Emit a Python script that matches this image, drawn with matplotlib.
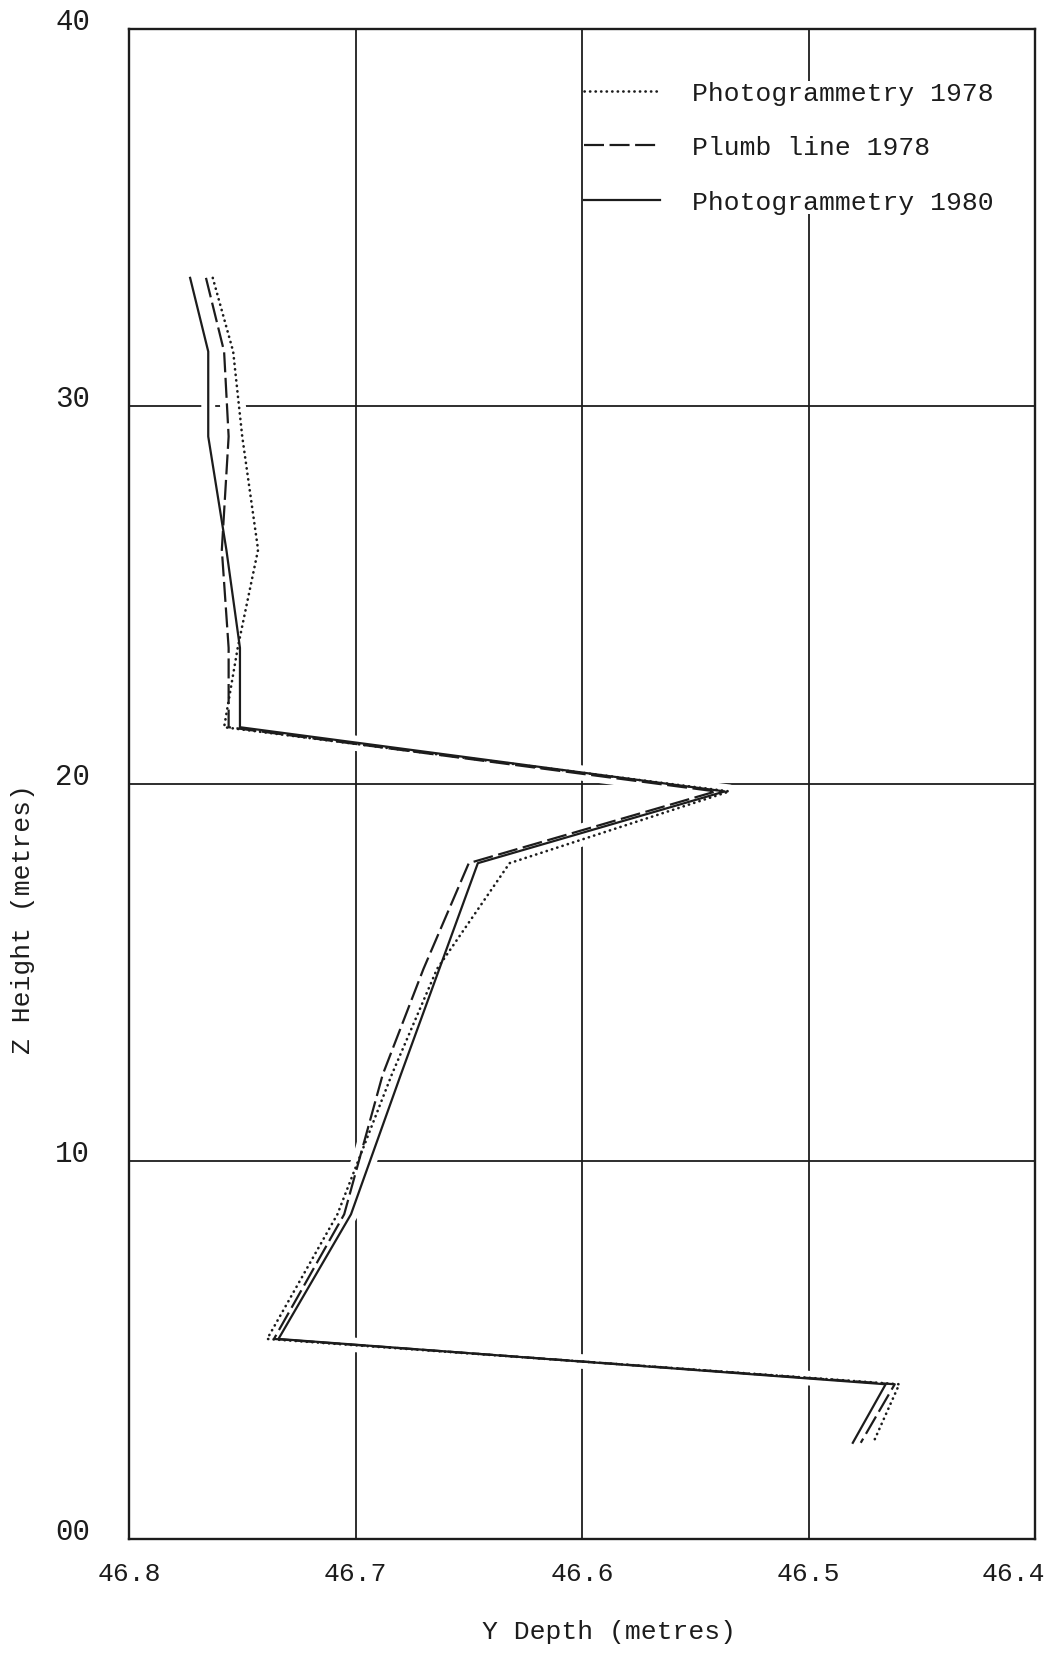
import matplotlib
matplotlib.use('Agg')
import matplotlib.pyplot as plt

# ---------------- data ----------------
height = [33.4, 31.45, 29.2, 26.2, 23.6, 21.5, 19.8, 17.9, 15.1, 12.3, 8.6, 5.3, 4.1, 2.55]
photo_1978 = [46.763, 46.754, 46.750, 46.743, 46.752, 46.758, 46.535, 46.632,
              46.664, 46.684, 46.708, 46.739, 46.460, 46.4715]
plumb_1978 = [46.766, 46.758, 46.756, 46.759, 46.756, 46.756, 46.541, 46.650,
              46.670, 46.688, 46.705, 46.736, 46.462, 46.477]
photo_1980 = [46.773, 46.765, 46.765, 46.757, 46.751, 46.751, 46.537, 46.646,
              46.663, 46.680, 46.702, 46.734, 46.466, 46.4805]

series_labels = ["Photogrammetry 1978", "Plumb line 1978", "Photogrammetry 1980"]
x_ticks = [46.8, 46.7, 46.6, 46.5, 46.4]
x_ticklabels = ["46.8", "46.7", "46.6", "46.5", "46.4"]
y_ticks = [0, 10, 20, 30, 40]
y_ticklabels = ["00", "10", "20", "30", "40"]

# ---------------- style ----------------
FONT = "Liberation Mono"
FS = 19
INK = "#1c1c1c"
plt.rcParams['font.family'] = [FONT, 'DejaVu Sans Mono']

fig = plt.figure(figsize=(10.5, 16.56), dpi=100)
ax = fig.add_axes([0.1228, 0.0700, 0.8631, 0.9121])

ax.set_xlim(46.8, 46.4)
ax.set_ylim(0, 40)
ax.set_axisbelow(True)
ax.grid(True, color=INK, lw=1.3)
for sp in ax.spines.values():
    sp.set_linewidth(1.7)
    sp.set_color(INK)
    sp.set_zorder(2.5)

styles = [
    dict(linestyle=(0, (0.1, 2.0)), dash_capstyle='round', lw=1.9),
    dict(linestyle=(0, (9, 2.5)), lw=1.6),
    dict(linestyle='-', lw=1.6),
]
all_series = [photo_1978, plumb_1978, photo_1980]

# white halos so the grid is broken around the traces (as in the plotter output)
for vals in all_series:
    ax.plot(vals, height, color='white', lw=10, solid_capstyle='round', zorder=1.5)

handles = []
for vals, st, lab in zip(all_series, styles, series_labels):
    ln, = ax.plot(vals, height, color=INK, zorder=3, label=lab, **st)
    handles.append(ln)

# ticks
ax.set_xticks(x_ticks)
ax.set_xticklabels(x_ticklabels[:-1] + [""])
ax.set_yticks(y_ticks)
ax.set_yticklabels(y_ticklabels)
ax.tick_params(axis='x', length=0, pad=16, labelsize=FS, labelcolor=INK)
ax.tick_params(axis='y', length=0, pad=28, labelsize=FS + 2, labelcolor=INK)
plt.setp(ax.get_yticklabels(), va='baseline')
ax.annotate(x_ticklabels[-1], xy=(x_ticks[-1], 0), xycoords=('data', 'axes fraction'),
            xytext=(-16, -16), textcoords='offset points', ha='center', va='top',
            fontsize=FS, color=INK, annotation_clip=False)

ax.set_xlabel("Y Depth (metres)", fontsize=FS, color=INK)
ax.xaxis.set_label_coords(0.53, -0.053)
ax.set_ylabel("Z Height (metres)", fontsize=FS, color=INK)
ax.yaxis.set_label_coords(-0.104, 0.411)

leg = ax.legend(handles=handles, loc='upper left', bbox_to_anchor=(0.502, 0.9655),
                borderpad=0, borderaxespad=0, frameon=True, fancybox=False,
                edgecolor='none', facecolor='white', framealpha=1,
                handlelength=2.9, handletextpad=1.2, labelspacing=1.16,
                prop={'family': FONT, 'size': FS})
for t in leg.get_texts():
    t.set_color(INK)
leg.set_zorder(5)

fig.savefig("out.png", dpi=100, facecolor='white')
